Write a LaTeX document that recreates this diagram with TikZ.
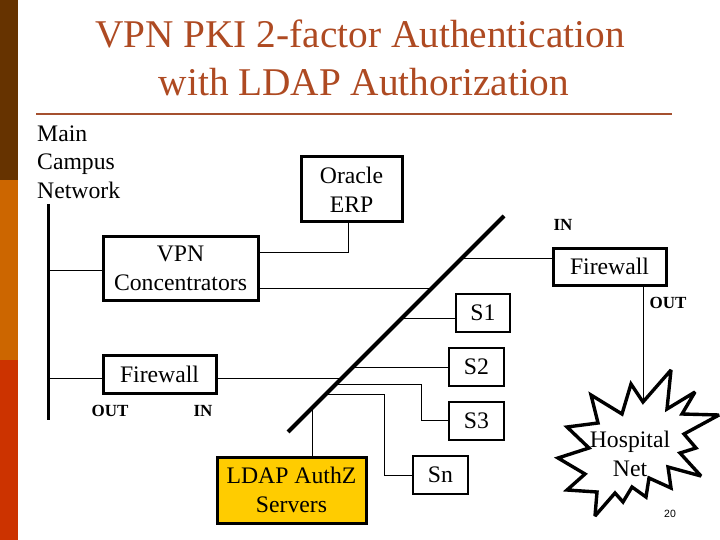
\documentclass[tikz,border=0pt]{standalone}
\usepackage{fontspec}
\setmainfont{Liberation Serif}
\newfontfamily\numfont{Liberation Sans}
\definecolor{barbrown}{HTML}{663300}
\definecolor{barorange}{HTML}{CC6600}
\definecolor{barred}{HTML}{CC3300}
\definecolor{titlecol}{HTML}{AE4A22}
\definecolor{rulecol}{HTML}{A5502F}
\definecolor{ldapfill}{HTML}{FFCC00}
\tikzset{
  box/.style={draw=black,inner sep=0pt,align=center,font=\fontsize{23.7}{29}\selectfont},
  thick box/.style={box,line width=3pt},
  thin box/.style={box,line width=2pt},
  wire/.style={draw=black,line width=0.8pt},
  small tag/.style={inner sep=0pt,font=\fontsize{17}{17}\selectfont\bfseries},
}
% style, name, x1, y1, x2, y2; the label follows the call
\newcommand{\boxnode}[6]{%
  \node[#1,minimum width=#5pt-#3pt,minimum height=#6pt-#4pt] (#2) at ({(#3+#5)/2},{(#4+#6)/2})}
\begin{document}
\begin{tikzpicture}[x=1pt,y=-1pt]
\useasboundingbox (0,0) rectangle (720,540);
\fill[white] (0,0) rectangle (720,540);
% side bar
\fill[barbrown] (0,0) rectangle (18,180);
\fill[barorange] (0,180) rectangle (18,360);
\fill[barred] (0,360) rectangle (18,540);
% title
\node[text=titlecol,align=center,inner sep=0pt,font=\fontsize{39.3}{48}\selectfont] (title) at (360,58) {VPN PKI 2-factor Authentication\\\hspace{8pt}with LDAP Authorization};
\draw[rulecol,line width=2pt] (36,114) -- (672,114);
\node[anchor=north west,align=left,inner sep=0pt,font=\fontsize{23.7}{28.5}\selectfont] (campus) at (37,125.5) {Main\\Campus\\Network};
% boxes
\boxnode{thick box}{oracle}{301}{157}{402}{222} {Oracle\\ERP};
\boxnode{thick box}{vpn}{103}{236}{258}{300} {VPN\\Concentrators};
\boxnode{thick box}{fwr}{553}{248}{666}{285} {Firewall};
\boxnode{thick box}{fwl}{103}{355}{216}{393} {Firewall};
\boxnode{thin box}{s1}{456}{294}{510}{332} {S1};
\boxnode{thin box}{s2}{449}{348}{504}{386} {S2};
\boxnode{thin box}{s3}{449}{402}{504}{440} {S3};
\boxnode{thin box}{sn}{413}{456}{468}{494} {Sn};
\boxnode{thick box,fill=ldapfill}{ldap}{217}{457}{366}{523} {LDAP AuthZ\\Servers};
% bus and diagonal backbone
\coordinate (bustop) at (48,204);
\coordinate (busend) at (48,420);
\coordinate (diagtop) at (504,216);
\coordinate (diagend) at (288,432);
\draw[line width=3pt] (bustop) -- (busend);
\draw[line width=4pt] (diagtop) -- (diagend);
% connectors
\draw[wire] (48,270) -- (vpn.west |- 48,270);
\draw[wire] (48,378) -- (fwl.west |- 48,378);
\draw[wire] (vpn.east |- 0,252) -| (oracle.south -| 348,0);
\draw[wire] (vpn.east |- 0,288) -- (432,288);
\draw[wire] (fwr.west |- 0,258) -- (462,258);
\draw[wire] (s1.west |- 0,318) -- (402,318);
\draw[wire] (fwl.east |- 0,378) -- (342,378);
\draw[wire] (s2.west |- 0,367) -- (353,367);
\draw[wire] (336,384) -| (421,420) -- (s3.west |- 0,420);
\draw[wire] (326,394) -| (384,475) -- (sn.west |- 0,475);
\draw[wire] (312.5,407.5) -- (ldap.north -| 312.5,0);
% hospital net
\coordinate (starin) at (643,401);
\draw[wire] (fwr.south -| 643,0) -- (starin);
\draw[line width=3.4pt,fill=white,line join=miter,miter limit=3]
  (643,402) -- (671,370) -- (667,409) -- (695,392) -- (682,414) -- (719,415) -- (684,434)
  -- (696,448) -- (680,453) -- (701,476) -- (668,467) -- (671,488) -- (649,478) -- (646,497)
  -- (632,487) -- (623,502) -- (615,493) -- (595,516) -- (597,492) -- (567,490) -- (585,474)
  -- (558,458) -- (589,448) -- (567,427) -- (598,423) -- (591,395) -- (622,414) -- (631,384) -- cycle;
\node[inner sep=0pt,align=center,font=\fontsize{23.7}{29}\selectfont] (hospital) at (630,454) {Hospital\\Net};
% tags
\node[small tag] (inr) at (563,225) {IN};
\node[small tag] (outr) at (668,303) {OUT};
\node[small tag] (outl) at (110,411) {OUT};
\node[small tag] (inl) at (203,411) {IN};
\node[inner sep=0pt,font=\numfont\fontsize{10.5}{12}\selectfont] (pagenum) at (670,514) {20};
\end{tikzpicture}
\end{document}
